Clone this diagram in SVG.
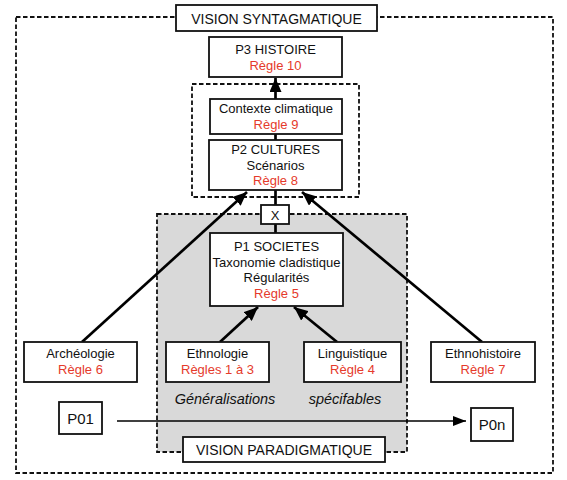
<svg xmlns="http://www.w3.org/2000/svg" width="567" height="480" viewBox="0 0 567 480">
<style>
text{font-family:"Liberation Sans",Arial,sans-serif;font-size:13px;fill:#111;text-anchor:middle}
.t14{font-size:14px}
.t15{font-size:15px}
.red{fill:#e53a2b}
.it{font-style:italic;font-size:14.5px}
.box{fill:#fff;stroke:#111;stroke-width:1.8}
.dash{fill:none;stroke:#111;stroke-width:1.8;stroke-dasharray:4.5 2.5}
.con{stroke:#000;stroke-width:2.7;fill:none}
.thin{stroke:#000;stroke-width:1.7;fill:none}
</style>
<defs>
<marker id="ah" markerUnits="userSpaceOnUse" markerWidth="15" markerHeight="12" refX="14" refY="6" orient="auto">
<path d="M0,0 L14,6 L0,12 Z" fill="#000"/>
</marker>
<marker id="ahs" markerUnits="userSpaceOnUse" markerWidth="14" markerHeight="10" refX="13" refY="5" orient="auto">
<path d="M0,0 L13,5 L0,10 Z" fill="#000"/>
</marker>
</defs>
<rect width="567" height="480" fill="#fff"/>
<g id="frames">
<rect class="dash" x="16" y="17" width="537" height="456"/>
<rect x="157" y="214" width="250" height="238" fill="#d9d9d9"/>
<rect class="dash" x="157" y="214" width="250" height="238"/>
<rect class="dash" x="192" y="84" width="167" height="113"/>
</g>
<g id="connectors">
<line class="con" x1="275.5" y1="99" x2="275.5" y2="78" marker-end="url(#ah)"/>
<line class="con" x1="275.5" y1="134" x2="275.5" y2="140"/>
<line class="con" x1="275.5" y1="190" x2="275.5" y2="205"/>
<line class="con" x1="275.5" y1="224" x2="275.5" y2="233"/>
<line class="con" x1="82" y1="342" x2="247" y2="192" marker-end="url(#ah)"/>
<line class="con" x1="482" y1="342" x2="302" y2="192" marker-end="url(#ah)"/>
<line class="con" x1="220" y1="342" x2="258" y2="307" marker-end="url(#ah)"/>
<line class="con" x1="337" y1="342" x2="294" y2="307" marker-end="url(#ah)"/>
<line class="thin" x1="117" y1="421" x2="466" y2="421" marker-end="url(#ahs)"/>
</g>
<g id="vision-syntagmatique">
<rect class="box" x="176" y="5" width="201" height="26"/>
<text class="t14" x="276.5" y="24">VISION SYNTAGMATIQUE</text>
</g>
<g id="p3">
<rect class="box" x="209" y="37" width="133" height="40"/>
<text x="275.5" y="54">P3 HISTOIRE</text>
<text class="red" x="275.5" y="70">Règle 10</text>
</g>
<g id="contexte">
<rect class="box" x="210" y="99" width="132" height="35"/>
<text x="276" y="113">Contexte climatique</text>
<text class="red" x="276" y="129">Règle 9</text>
</g>
<g id="p2">
<rect class="box" x="209" y="140" width="133" height="50"/>
<text x="275.5" y="154">P2 CULTURES</text>
<text x="275.5" y="169.5">Scénarios</text>
<text class="red" x="275.5" y="185">Règle 8</text>
</g>
<g id="x">
<rect class="box" x="261" y="205" width="28" height="19"/>
<text x="275" y="219.5">X</text>
</g>
<g id="p1">
<rect class="box" x="210" y="233" width="133" height="73"/>
<text x="276.5" y="251">P1 SOCIETES</text>
<text x="276.5" y="267">Taxonomie cladistique</text>
<text x="276.5" y="282">Régularités</text>
<text class="red" x="276.5" y="298">Règle 5</text>
</g>
<g id="archeologie">
<rect class="box" x="24" y="342" width="113" height="40"/>
<text x="80.5" y="358">Archéologie</text>
<text class="red" x="80.5" y="374">Règle 6</text>
</g>
<g id="ethnologie">
<rect class="box" x="166" y="342" width="103" height="40"/>
<text x="217.5" y="358">Ethnologie</text>
<text class="red" x="217.5" y="374">Règles 1 à 3</text>
</g>
<g id="linguistique">
<rect class="box" x="304" y="342" width="97" height="40"/>
<text x="352.5" y="358">Linguistique</text>
<text class="red" x="352.5" y="374">Règle 4</text>
</g>
<g id="ethnohistoire">
<rect class="box" x="431" y="342" width="104" height="40"/>
<text x="483" y="358">Ethnohistoire</text>
<text class="red" x="483" y="374">Règle 7</text>
</g>
<g id="labels">
<text class="it" x="225" y="404">Généralisations</text>
<text class="it" x="345" y="404">spécifables</text>
</g>
<g id="p01">
<rect class="box" x="59" y="402" width="43" height="32"/>
<text class="t15" x="80.5" y="424">P01</text>
</g>
<g id="p0n">
<rect class="box" x="471" y="408" width="42" height="33"/>
<text class="t15" x="492" y="430">P0n</text>
</g>
<g id="vision-paradigmatique">
<rect class="box" x="183" y="437" width="202" height="25"/>
<text class="t14" x="284" y="455">VISION PARADIGMATIQUE</text>
</g>
</svg>
